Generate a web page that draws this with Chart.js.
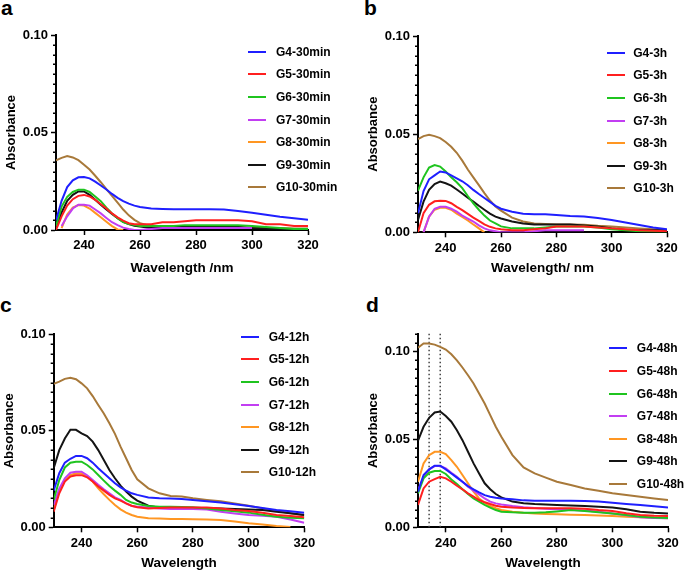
<!DOCTYPE html>
<html>
<head>
<meta charset="utf-8">
<script src="https://cdn.jsdelivr.net/npm/chart.js@4.4.1/dist/chart.umd.min.js"></script>
<style>
  body { margin: 0; background: #fff; width: 685px; height: 573px; position: relative; overflow: hidden;
         font-family: 'Liberation Sans', Arial, sans-serif; font-weight: bold; color: #000; }
  canvas { position: absolute; }
  .tag { position: absolute; font-size: 21px; line-height: 21px; }
  .row { position: absolute; display: flex; align-items: center; height: 20px; font-size: 12px; white-space: nowrap; }
  .swatch { display: inline-block; height: 2px; }
</style>
</head>
<body>
<div class="tag" style="left:1px;top:-3px">a</div>
<div class="tag" style="left:364px;top:-3px">b</div>
<div class="tag" style="left:0px;top:294px">c</div>
<div class="tag" style="left:366px;top:294px">d</div>

<script>
// ===== Data =====
const wl = [230, 232, 234, 236, 238, 240, 242, 244, 246, 248, 250, 252, 254, 256, 258, 260,
            264, 268, 272, 276, 280, 285, 290, 295, 300, 305, 310, 315, 320];
const xTicks = [240, 260, 280, 300, 320];
const colors = ['#1f1fff', '#ff1f1f', '#1fc41f', '#c23ef2', '#ff9622', '#141414', '#a8793a'];

// panel a - 30 min
const aLabels = ['G4-30min', 'G5-30min', 'G6-30min', 'G7-30min', 'G8-30min', 'G9-30min', 'G10-30min'];
const aG4 = [0.005, 0.015, 0.022, 0.0255, 0.027, 0.0272, 0.0265, 0.0248, 0.0228, 0.0208, 0.0185, 0.0165, 0.0148, 0.0135, 0.0125, 0.0118,
             0.011, 0.0108, 0.0107, 0.0107, 0.0107, 0.0107, 0.0105, 0.0098, 0.0088, 0.0078, 0.0068, 0.006, 0.0052];
const aG5 = [0, 0.007, 0.0125, 0.0158, 0.0175, 0.018, 0.0172, 0.0155, 0.0132, 0.011, 0.0085, 0.0065, 0.0048, 0.0035, 0.003, 0.003,
             0.003, 0.004, 0.004, 0.0045, 0.005, 0.005, 0.005, 0.005, 0.0045, 0.003, 0.003, 0.002, 0.002];
const aG6 = [0.002, 0.012, 0.017, 0.0195, 0.0207, 0.0207, 0.0195, 0.0172, 0.0148, 0.0115, 0.0085, 0.006, 0.004, 0.003, 0.0025, 0.002,
             0.002, 0.002, 0.002, 0.0025, 0.0025, 0.0025, 0.0025, 0.0025, 0.002, 0.0015, 0.001, 0.0005, 0.0005];
const aG7 = [null, 0.002, 0.007, 0.011, 0.013, 0.013, 0.0125, 0.0105, 0.0085, 0.0062, 0.004, 0.0025, 0.0012, 0.0005, 0, 0,
             0.0005, 0.001, 0.001, 0.001, 0.001, 0.001, 0.001, 0.001, 0.001, null, null, null, null];
const aG8 = [null, 0.001, 0.008, 0.0115, 0.0128, 0.0125, 0.011, 0.0088, 0.0065, 0.0042, 0.002, 0.0003, 0, null, null, null,
             null, null, null, null, null, null, null, null, null, null, null, null, null];
const aG9 = [0.001, 0.009, 0.015, 0.018, 0.0198, 0.0198, 0.018, 0.0155, 0.013, 0.0105, 0.0082, 0.006, 0.0042, 0.003, 0.0022, 0.0018,
             0.001, 0.001, 0.0015, 0.002, 0.002, 0.002, 0.002, 0.0015, 0.001, 0.0008, 0.0005, 0.0005, 0.0005];
const aG10 = [0.0357, 0.037, 0.0379, 0.0372, 0.0358, 0.0335, 0.031, 0.0278, 0.0245, 0.021, 0.0175, 0.014, 0.0105, 0.0075, 0.0052, 0.0035,
              0.002, 0.002, 0.002, 0.002, 0.002, 0.002, 0.002, 0.0015, 0.001, 0.001, 0.001, 0.0008, 0.0008];

// panel b - 3 h
const bLabels = ['G4-3h', 'G5-3h', 'G6-3h', 'G7-3h', 'G8-3h', 'G9-3h', 'G10-3h'];
const bG4 = [0.0097, 0.021, 0.027, 0.029, 0.031, 0.0305, 0.029, 0.0275, 0.026, 0.024, 0.0216, 0.0195, 0.0175, 0.0155, 0.0135, 0.012,
             0.0105, 0.0095, 0.0092, 0.0092, 0.0088, 0.0083, 0.008, 0.0073, 0.0063, 0.005, 0.0037, 0.0025, 0.0015];
const bG5 = [0, 0.0097, 0.014, 0.0158, 0.0161, 0.016, 0.0148, 0.013, 0.0113, 0.0094, 0.0075, 0.0058, 0.004, 0.0028, 0.002, 0.0015,
             0.001, 0.001, 0.0015, 0.002, 0.003, 0.003, 0.003, 0.0025, 0.002, 0.0015, 0.001, 0.0008, 0.0005];
const bG6 = [0.0212, 0.028, 0.033, 0.0343, 0.0335, 0.031, 0.028, 0.0255, 0.0225, 0.0185, 0.0148, 0.0115, 0.0085, 0.006, 0.0045, 0.003,
             0.002, 0.002, 0.002, 0.0025, 0.003, 0.003, 0.003, 0.0025, 0.0015, 0.001, 0.0005, 0.0003, 0];
const bG7 = [null, 0, 0.008, 0.012, 0.013, 0.013, 0.012, 0.0105, 0.0085, 0.007, 0.0055, 0.0035, 0.002, 0.001, 0.0005, 0,
             0, 0, 0.0005, 0.001, 0.001, 0.001, 0.001, null, null, null, null, null, null];
const bG8 = [null, 0, 0.008, 0.0115, 0.0125, 0.0125, 0.0115, 0.0095, 0.0078, 0.006, 0.004, 0.002, 0, null, null, null,
             null, null, null, null, null, null, null, null, null, null, null, null, null];
const bG9 = [0.0063, 0.0156, 0.0216, 0.0246, 0.0258, 0.025, 0.0238, 0.0218, 0.0198, 0.0176, 0.0156, 0.0135, 0.0115, 0.0095, 0.008, 0.007,
             0.0055, 0.0045, 0.004, 0.004, 0.004, 0.004, 0.0035, 0.003, 0.002, 0.0012, 0.001, 0.001, 0.001];
const bG10 = [0.0475, 0.049, 0.0497, 0.049, 0.048, 0.046, 0.0436, 0.0405, 0.0365, 0.032, 0.028, 0.024, 0.02, 0.0162, 0.0132, 0.011,
              0.0075, 0.0055, 0.0045, 0.0042, 0.004, 0.004, 0.0038, 0.0033, 0.003, 0.0025, 0.002, 0.0015, 0.001];

// panel c - 12 h
const cLabels = ['G4-12h', 'G5-12h', 'G6-12h', 'G7-12h', 'G8-12h', 'G9-12h', 'G10-12h'];
const cG4 = [0.019, 0.028, 0.0335, 0.0355, 0.037, 0.037, 0.0358, 0.0335, 0.0306, 0.028, 0.0254, 0.0228, 0.0207, 0.019, 0.0176, 0.0168,
             0.0154, 0.015, 0.0149, 0.0146, 0.0142, 0.0135, 0.0128, 0.012, 0.011, 0.01, 0.009, 0.0083, 0.0076];
const cG5 = [0.0081, 0.0176, 0.0237, 0.0263, 0.027, 0.027, 0.0259, 0.0237, 0.0211, 0.019, 0.0168, 0.015, 0.0138, 0.0124, 0.0112, 0.0104,
             0.0098, 0.01, 0.0102, 0.0102, 0.0102, 0.0102, 0.0098, 0.009, 0.0085, 0.0075, 0.0064, 0.0058, 0.0052];
const cG6 = [0.0142, 0.0245, 0.031, 0.0335, 0.034, 0.034, 0.0323, 0.03, 0.0271, 0.0242, 0.0214, 0.019, 0.0168, 0.0142, 0.0128, 0.0121,
             0.011, 0.0107, 0.0107, 0.0105, 0.0104, 0.0098, 0.009, 0.0083, 0.0076, 0.0065, 0.0055, 0.005, 0.0047];
const cG7 = [0.0116, 0.02, 0.0254, 0.0283, 0.0288, 0.0288, 0.027, 0.0245, 0.022, 0.0197, 0.0176, 0.0155, 0.0142, 0.0124, 0.011, 0.0107,
             0.0102, 0.0098, 0.0095, 0.0095, 0.0095, 0.0092, 0.0081, 0.0072, 0.0064, 0.006, 0.0055, 0.004, 0.0024];
const cG8 = [0.009, 0.0193, 0.0245, 0.027, 0.028, 0.028, 0.0263, 0.0237, 0.0202, 0.0171, 0.0142, 0.0116, 0.0093, 0.0076, 0.0064, 0.0055,
             0.0047, 0.0045, 0.0043, 0.0043, 0.0042, 0.004, 0.0038, 0.003, 0.0021, 0.0014, 0.0007, 0.0002, null];
const cG9 = [0.0306, 0.04, 0.046, 0.0505, 0.0505, 0.0487, 0.0473, 0.0444, 0.04, 0.0349, 0.0297, 0.0254, 0.0216, 0.0185, 0.0159, 0.0138,
             0.0112, 0.0102, 0.01, 0.01, 0.01, 0.01, 0.0098, 0.0095, 0.0092, 0.009, 0.0081, 0.0073, 0.0064];
const cG10 = [0.0743, 0.0755, 0.0769, 0.0775, 0.0767, 0.0746, 0.072, 0.068, 0.0634, 0.059, 0.0539, 0.0484, 0.0418, 0.0358, 0.0297, 0.0249,
              0.0202, 0.0176, 0.0162, 0.0159, 0.015, 0.0142, 0.0135, 0.0124, 0.0112, 0.0098, 0.0086, 0.0073, 0.0062];

// panel d - 48 h
const dLabels = ['G4-48h', 'G5-48h', 'G6-48h', 'G7-48h', 'G8-48h', 'G9-48h', 'G10-48h'];
const dG4 = [0.0202, 0.0297, 0.0329, 0.035, 0.035, 0.0329, 0.0306, 0.0282, 0.0259, 0.0234, 0.0216, 0.0199, 0.0183, 0.0174, 0.0168, 0.0164,
             0.0159, 0.0153, 0.0151, 0.0151, 0.0151, 0.0151, 0.015, 0.0146, 0.014, 0.0133, 0.0127, 0.012, 0.0112];
const dG5 = [0.0127, 0.0221, 0.0259, 0.0274, 0.0287, 0.0278, 0.0259, 0.0236, 0.0216, 0.0193, 0.0174, 0.0155, 0.0142, 0.0132, 0.0123, 0.0117,
             0.0112, 0.011, 0.0108, 0.0108, 0.0108, 0.0108, 0.0105, 0.0098, 0.0093, 0.008, 0.007, 0.0066, 0.0064];
const dG6 = [0.0193, 0.0278, 0.031, 0.032, 0.032, 0.0303, 0.0272, 0.0246, 0.0216, 0.0189, 0.0164, 0.0146, 0.0127, 0.0112, 0.0098, 0.0089,
             0.0085, 0.0083, 0.0083, 0.0085, 0.009, 0.0098, 0.0093, 0.0085, 0.0079, 0.007, 0.006, 0.0055, 0.0053];
const dG7 = [0.021, 0.0287, 0.0329, 0.0348, 0.0348, 0.0335, 0.031, 0.0287, 0.0259, 0.0231, 0.0208, 0.0187, 0.0164, 0.0146, 0.0136, 0.013,
             0.0121, 0.0114, 0.011, 0.0106, 0.0102, 0.0098, 0.0095, 0.0088, 0.0079, 0.0068, 0.0057, 0.0053, 0.0051];
const dG8 = [0.0259, 0.0363, 0.041, 0.0429, 0.0429, 0.0416, 0.0382, 0.0344, 0.0297, 0.025, 0.0202, 0.0164, 0.014, 0.0121, 0.0108, 0.0098,
             0.0089, 0.0082, 0.0078, 0.0076, 0.0074, 0.0072, 0.007, 0.0067, 0.0064, 0.006, 0.0057, 0.0054, 0.0051];
const dG9 = [0.0492, 0.0571, 0.0622, 0.0652, 0.0658, 0.0632, 0.06, 0.0552, 0.0495, 0.0429, 0.0363, 0.0306, 0.025, 0.0216, 0.0189, 0.017,
             0.0146, 0.0137, 0.0132, 0.013, 0.0127, 0.0124, 0.0121, 0.0117, 0.0112, 0.0102, 0.0089, 0.0083, 0.0079];
const dG10 = [0.102, 0.1044, 0.1044, 0.1038, 0.1025, 0.101, 0.0983, 0.0949, 0.0908, 0.0864, 0.0817, 0.076, 0.0703, 0.0637, 0.0571, 0.0514,
              0.041, 0.034, 0.0306, 0.0282, 0.0259, 0.024, 0.0221, 0.0208, 0.0193, 0.0183, 0.0174, 0.0164, 0.0155];
const dMarkers = [234, 238];

// ===== Helpers =====
const FONT = "'Liberation Sans', Arial, sans-serif";
Chart.defaults.font.family = FONT;
const isMajor = v => Math.abs(v / 0.05 - Math.round(v / 0.05)) < 1e-6;

// short minor ticks on the y axis
const minorTicks = {
    id: 'minorTicks',
    afterDraw(chart) {
        const y = chart.scales.y, ctx = chart.ctx, left = chart.chartArea.left;
        ctx.save();
        ctx.strokeStyle = '#000';
        ctx.lineWidth = 1.5;
        y.ticks.forEach(t => {
            if (isMajor(t.value)) return;
            const py = Math.round(y.getPixelForValue(t.value)) + 0.25;
            ctx.beginPath();
            ctx.moveTo(left - 3, py);
            ctx.lineTo(left, py);
            ctx.stroke();
        });
        ctx.restore();
    }
};

// dotted vertical guide lines
const guideLines = {
    id: 'guideLines',
    beforeDatasetsDraw(chart, args, opts) {
        if (!opts.values) return;
        const x = chart.scales.x, ctx = chart.ctx, a = chart.chartArea;
        ctx.save();
        ctx.strokeStyle = '#444';
        ctx.lineWidth = 1.5;
        ctx.setLineDash([1.5, 2.5]);
        opts.values.forEach(v => {
            const px = x.getPixelForValue(v);
            ctx.beginPath();
            ctx.moveTo(px, a.top);
            ctx.lineTo(px, a.bottom);
            ctx.stroke();
        });
        ctx.restore();
    }
};

function makePanel(p) {
    const cv = document.createElement('canvas');
    cv.width = p.cv[2];
    cv.height = p.cv[3];
    cv.style.left = p.cv[0] + 'px';
    cv.style.top = p.cv[1] + 'px';
    document.body.appendChild(cv);

    const yLH = 13 * 1.2, xLH = 13.5 * 1.2;
    const padL = p.yTitleX - yLH / 2 - p.cv[0];
    const yW = p.area.l - p.cv[0] - padL;
    const xBottom = p.xTitleY + xLH / 2;
    const xH = xBottom - p.area.b;

    new Chart(cv, {
        type: 'line',
        data: {
            datasets: p.series.map((s, i) => ({
                label: p.labels[i],
                data: wl.map((x, j) => ({ x: x, y: s[j] })),
                borderColor: colors[i],
                borderWidth: 2,
                pointRadius: 0,
                fill: false,
                tension: 0
            }))
        },
        options: {
            responsive: false,
            animation: false,
            events: [],
            layout: {
                padding: {
                    left: padL,
                    top: p.area.t - p.cv[1],
                    right: p.cv[0] + p.cv[2] - p.area.r,
                    bottom: p.cv[1] + p.cv[3] - xBottom
                }
            },
            plugins: {
                legend: { display: false },
                tooltip: { enabled: false },
                guideLines: { values: p.markers }
            },
            scales: {
                x: {
                    type: 'linear',
                    min: 230,
                    max: 320,
                    afterBuildTicks: s => { s.ticks = xTicks.map(v => ({ value: v })); },
                    afterFit: s => { s.height = xH; },
                    grid: { drawOnChartArea: false, tickLength: 5, tickWidth: 1.5, tickColor: '#000' },
                    border: { color: '#000', width: 2 },
                    ticks: { color: '#000', padding: 3, maxRotation: 0, font: { size: 13, weight: 'bold' } },
                    title: { display: true, text: p.xTitle, color: '#000', padding: 0, font: { size: 13.5, weight: 'bold' } }
                },
                y: {
                    min: 0,
                    max: p.yMax,
                    afterBuildTicks: s => {
                        const n = Math.round(p.yMax / 0.005);
                        s.ticks = [];
                        for (let k = 0; k <= n; k++) s.ticks.push({ value: +(k * 0.005).toFixed(3) });
                    },
                    afterFit: s => { s.width = yW; },
                    grid: {
                        drawOnChartArea: false, tickLength: 5, tickWidth: 1.5,
                        tickColor: c => (c.tick && isMajor(c.tick.value)) ? '#000' : 'rgba(0,0,0,0)'
                    },
                    border: { color: '#000', width: 2 },
                    ticks: {
                        autoSkip: false, color: '#000', padding: 3, font: { size: 13, weight: 'bold' },
                        callback: v => isMajor(v) ? v.toFixed(2) : ''
                    },
                    title: { display: true, text: 'Absorbance', color: '#000', padding: 0, font: { size: 13, weight: 'bold' } }
                }
            }
        },
        plugins: [minorTicks, guideLines]
    });

    // legend drawn as html rows
    p.labels.forEach((lab, i) => {
        const row = document.createElement('div');
        row.className = 'row';
        row.style.left = p.leg.x + 'px';
        row.style.top = (p.leg.y + i * 22.6 - 10) + 'px';
        const sw = document.createElement('span');
        sw.className = 'swatch';
        sw.style.width = p.leg.w + 'px';
        sw.style.marginRight = p.leg.gap + 'px';
        sw.style.background = colors[i];
        row.appendChild(sw);
        row.appendChild(document.createTextNode(lab));
        document.body.appendChild(row);
    });
}

// ===== Panels =====
makePanel({ cv: [0, 0, 340, 285], area: { l: 56, t: 35, r: 308, b: 230 }, yTitleX: 11.7, xTitleY: 268.5, yMax: 0.1,
            xTitle: 'Wavelength /nm', labels: aLabels, series: [aG4, aG5, aG6, aG7, aG8, aG9, aG10],
            leg: { x: 248, y: 51.7, w: 18, gap: 10 } });
makePanel({ cv: [340, 0, 345, 285], area: { l: 418, t: 36, r: 667, b: 232.3 }, yTitleX: 373.8, xTitleY: 268.7, yMax: 0.1,
            xTitle: 'Wavelength/ nm', labels: bLabels, series: [bG4, bG5, bG6, bG7, bG8, bG9, bG10],
            leg: { x: 606.7, y: 52.7, w: 18, gap: 8.5 } });
makePanel({ cv: [0, 285, 340, 288], area: { l: 53.7, t: 334.3, r: 304.3, b: 527.3 }, yTitleX: 9.2, xTitleY: 563.3, yMax: 0.1,
            xTitle: 'Wavelength', labels: cLabels, series: [cG4, cG5, cG6, cG7, cG8, cG9, cG10],
            leg: { x: 240.7, y: 336.7, w: 18, gap: 10 } });
makePanel({ cv: [340, 285, 345, 288], area: { l: 418, t: 333.7, r: 668, b: 527.3 }, yTitleX: 373.8, xTitleY: 563.3, yMax: 0.11,
            xTitle: 'Wavelength', labels: dLabels, series: [dG4, dG5, dG6, dG7, dG8, dG9, dG10],
            leg: { x: 609.3, y: 348.3, w: 18, gap: 9.5 }, markers: dMarkers });
</script>
</body>
</html>
